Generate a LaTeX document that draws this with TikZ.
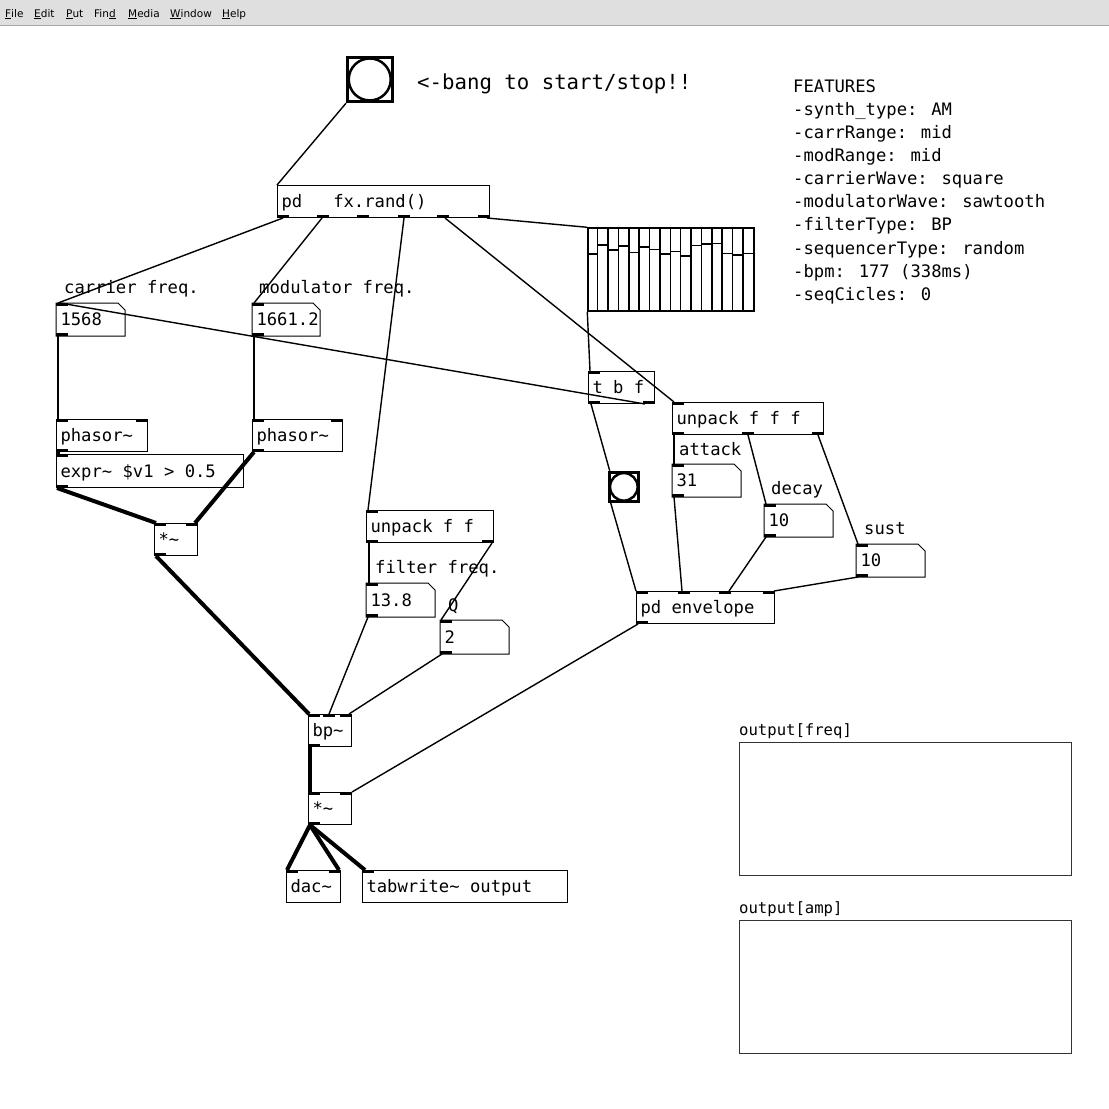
\documentclass[tikz,border=0pt]{standalone}
\usepackage{fontspec}
\newfontfamily\pdfont{DejaVu Sans Mono}
\newfontfamily\menufont{DejaVu Sans}
\usetikzlibrary{calc,positioning}

\begin{document}
\begin{tikzpicture}[x=1pt,y=-1pt,
	obj/.style={draw, line width=1pt, anchor=north west, inner xsep=4pt, inner ysep=0pt,
		minimum height=32pt, text height=14pt, text depth=2pt, text width=#1, align=flush left,
		font=\pdfont\fontsize{17.2}{20}\selectfont},
	nbox/.style={obj=#1, draw=none},
	bng/.style={draw, line width=3pt, anchor=north west, inner sep=0pt, minimum size=#1},
	cmt/.style={anchor=base west, inner sep=0pt, font=\pdfont\fontsize{17.2}{20}\selectfont},
	menu/.style={anchor=base west, inner sep=0pt, font=\menufont\fontsize{10.5}{12}\selectfont},
	ctl/.style={line width=1.4pt},
	sig/.style={line width=4pt}]
					
					\useasboundingbox (0,0) rectangle (1109,1109);
					\fill[white] (0,0) rectangle (1109,1109);
					
					% menu bar
					\fill[gray!25] (0,0) rectangle (1109,25);
					\draw[gray!70] (0,25) -- (1109,25);
					\node[menu] (mfile) at (5,17) {\underline{F}ile};
					\node[menu] (medit) at (34,17) {\underline{E}dit};
					\node[menu] (mput) at (66,17) {\underline{P}ut};
					\node[menu] (mfind) at (94,17) {Fin\underline{d}};
					\node[menu] (mmedia) at (128,17) {\underline{M}edia};
					\node[menu] (mwin) at (170,17) {\underline{W}indow};
					\node[menu] (mhelp) at (222,17) {\underline{H}elp};
					
					% bangs
					\node[bng=44.5pt] (bng1) at (346,55.7) {};
					\draw[line width=2.5pt] (bng1.center) circle (21);
					\node[bng=29.3pt] (bng2) at (607.7,470.7) {};
					\draw[line width=2.5pt] (bng2.center) circle (13.8);
					
					% objects
					\node[obj=204pt] (fx) at (277,185) {pd\ \ \ fx.rand()};
					\node[obj=83pt] (ph1) at (56,419) {phasor\textasciitilde};
					\node[obj=82pt] (ph2) at (252,419) {phasor\textasciitilde};
					\node[obj=179pt, minimum height=33pt] (expr) at (56,454) {expr\textasciitilde\ \$v1 > 0.5};
					\node[obj=35pt] (mul1) at (154,523) {*\textasciitilde};
					\node[obj=119pt] (uff) at (366,510) {unpack f f};
					\node[obj=35pt] (bp) at (308,714) {bp\textasciitilde};
					\node[obj=35pt] (mul2) at (308,792) {*\textasciitilde};
					\node[obj=46pt] (dac) at (286,870) {dac\textasciitilde};
					\node[obj=197pt] (tab) at (362,870) {tabwrite\textasciitilde\ output};
					\node[obj=58pt] (tbf) at (588,371) {t b f};
					\node[obj=143pt] (ufff) at (672,402) {unpack f f f};
					\node[obj=130pt] (env) at (636,591) {pd envelope};
					
					% number boxes
					\node[nbox=60pt] (carr) at (56,303) {1568};
					\node[nbox=59pt] (mod) at (252,303) {1661.2};
					\node[nbox=60pt, minimum height=33pt] (filt) at (366,583) {13.8};
					\node[nbox=60pt, minimum height=33pt] (q) at (440,620) {2};
					\node[nbox=60pt] (atk) at (672,464) {31};
					\node[nbox=60pt] (dec) at (764,504) {10};
					\node[nbox=60pt] (sus) at (856,544) {10};
					\foreach \n in {carr,mod,filt,q,atk,dec,sus}
						\draw[line width=1pt] (\n.north west) -- ($(\n.north east)+(-7,0)$) -- ($(\n.north east)+(0,7)$)
							-- (\n.south east) -- (\n.south west) -- cycle;
					
					% sequencer array
					\node[draw, line width=1.6pt, anchor=north west, inner sep=0pt, minimum width=166pt, minimum height=83pt] (seq) at (587.3,227.3) {};
					\foreach \i in {1,...,15}
						\draw[line width=1.6pt] ({587.3+10.375*\i},227.3) -- ++(0,83);
					\foreach \v [count=\i from 0] in {254,244.7,250,246,252.3,247,249.3,254,251.3,255.7,245.3,243.7,243.3,253.3,254.7,253.3}
						\draw[line width=1.6pt] ({587.3+10.375*\i},\v) -- ++(10.375,0);
					
					% inlets and outlets
					\foreach \n in {carr,mod,ph1,ph2,expr,mul1,uff,filt,q,bp,mul2,dac,tab,tbf,ufff,atk,dec,sus,env}
						\fill (\n.north west) rectangle ++(12,3);
					\foreach \n in {ph1,ph2,mul1,bp,mul2,dac,env}
						\fill ($(\n.north east)+(-12,0)$) rectangle ++(12,3);
					\foreach \n in {fx,carr,mod,ph1,ph2,expr,mul1,uff,filt,q,bp,mul2,tbf,ufff,atk,dec,sus,env}
						\fill ($(\n.south west)+(0,-3)$) rectangle ++(12,3);
					\foreach \n in {fx,uff,tbf,ufff}
						\fill ($(\n.south east)+(-12,-3)$) rectangle ++(12,3);
					\foreach \d in {40,80,121,160}
						\fill ($(fx.south west)+(\d,-3)$) rectangle ++(12,3);
					\fill ($(ufff.south west)+(70,-3)$) rectangle ++(12,3);
					\fill ($(bp.north west)+(15,0)$) rectangle ++(12,3);
					\foreach \d in {42,83}
						\fill ($(env.north west)+(\d,0)$) rectangle ++(12,3);
					
					% comments
					\node[cmt, font=\pdfont\fontsize{20.7}{24}\selectfont] (start) at (417,89) {<-bang to start/stop!!};
					\node[cmt] (lcarr) at (64,293) {carrier freq.};
					\node[cmt] (lmod) at (259,293) {modulator freq.};
					\node[cmt] (lfilt) at (375,573) {filter freq.};
					\node[cmt] (lq) at (448,611) {Q};
					\node[cmt] (latk) at (679,455) {attack};
					\node[cmt] (ldec) at (771,494) {decay};
					\node[cmt] (lsus) at (864,534) {sust};
					\foreach \t [count=\i from 0] in {FEATURES,-synth\_type: AM,-carrRange: mid,-modRange: mid,-carrierWave: square,-modulatorWave: sawtooth,-filterType: BP,-sequencerType: random,-bpm: 177 (338ms),-seqCicles: 0}
						\node[cmt] (feat\i) at (793,{92+23.15*\i}) {\t};
					
					% output graphs
					\node[cmt, font=\pdfont\fontsize{15.6}{18}\selectfont] (lfreq) at (739,735.5) {output[freq]};
					\node[draw=black!80, line width=1pt, anchor=north west, inner sep=0pt, minimum width=332pt, minimum height=133pt] (gfreq) at (739,742.2) {};
					\node[cmt, font=\pdfont\fontsize{15.6}{18}\selectfont] (lamp) at (739,913) {output[amp]};
					\node[draw=black!80, line width=1pt, anchor=north west, inner sep=0pt, minimum width=332pt, minimum height=133pt] (gamp) at (739,919.5) {};
					
					% control connections
					\draw[ctl] (bng1.south west) -- (fx.north west);
					\draw[ctl] ($(fx.south west)+(6,0)$) -- ($(carr.north west)+(2,0)$);
					\draw[ctl] ($(fx.south west)+(45,0)$) -- ($(mod.north west)+(2,0)$);
					\draw[ctl] ($(fx.south west)+(127,0)$) -- ($(uff.north west)+(2,0)$);
					\draw[ctl] ($(fx.south west)+(168,0)$) -- ($(ufff.north west)+(2,0)$);
					\draw[ctl] ($(fx.south east)+(-3,0)$) -- (seq.north west);
					\draw[ctl] (seq.south west) -- ($(tbf.north west)+(2,0)$);
					\draw[ctl] ($(tbf.south east)+(-10,0)$) -- ($(carr.north west)+(4,0)$);
					\draw[ctl] ($(tbf.south west)+(3,0)$) -- ($(bng2.north west)+(2,0)$);
					\draw[ctl] ($(bng2.south west)+(3,0)$) -- (env.north west);
					\draw[ctl] ($(carr.south west)+(2,0)$) -- ($(ph1.north west)+(2,0)$);
					\draw[ctl] ($(mod.south west)+(2,0)$) -- ($(ph2.north west)+(2,0)$);
					\draw[ctl] ($(uff.south west)+(3,0)$) -- ($(filt.north west)+(3,0)$);
					\draw[ctl] ($(uff.south east)+(-2,0)$) -- ($(q.north west)+(1,0)$);
					\draw[ctl] ($(filt.south west)+(2,0)$) -- ($(bp.north west)+(21,0)$);
					\draw[ctl] ($(q.south west)+(2,0)$) -- ($(bp.north east)+(-3,0)$);
					\draw[ctl] ($(env.south west)+(2,0)$) -- (mul2.north east);
					\draw[ctl] ($(ufff.south west)+(2,0)$) -- ($(atk.north west)+(2,0)$);
					\draw[ctl] ($(ufff.south west)+(76,0)$) -- ($(dec.north west)+(2,0)$);
					\draw[ctl] ($(ufff.south east)+(-6,0)$) -- ($(sus.north west)+(2,0)$);
					\draw[ctl] ($(atk.south west)+(2,0)$) -- ($(env.north west)+(46,0)$);
					\draw[ctl] ($(dec.south west)+(2,0)$) -- ($(env.north west)+(93,0)$);
					\draw[ctl] ($(sus.south west)+(2,0)$) -- ($(env.north east)+(-1,0)$);
					
					% signal connections
					\draw[sig] ($(ph1.south west)+(2,0)$) -- ($(expr.north west)+(2,0)$);
					\draw[sig] ($(expr.south west)+(1,0)$) -- ($(mul1.north west)+(2,0)$);
					\draw[sig] ($(ph2.south west)+(2,0)$) -- ($(mul1.north east)+(-3,0)$);
					\draw[sig] ($(mul1.south west)+(2,0)$) -- ($(bp.north west)+(1,0)$);
					\draw[sig] ($(bp.south west)+(2,0)$) -- ($(mul2.north west)+(2,0)$);
					\draw[sig] ($(mul2.south west)+(2,0)$) -- ($(dac.north west)+(1,0)$);
					\draw[sig] ($(mul2.south west)+(2,0)$) -- ($(dac.north east)+(-2,0)$);
					\draw[sig] ($(mul2.south west)+(2,0)$) -- ($(tab.north west)+(3,0)$);
			\end{tikzpicture}
\end{document}
